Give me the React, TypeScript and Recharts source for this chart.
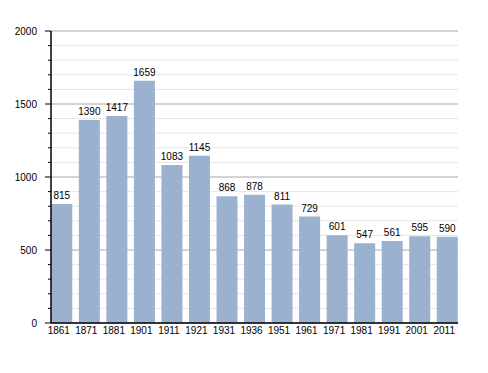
import React from 'react';
import { BarChart, Bar, XAxis, YAxis, CartesianGrid, LabelList } from 'recharts';

const years = ['1861', '1871', '1881', '1901', '1911', '1921', '1931', '1936', '1951', '1961', '1971', '1981', '1991', '2001', '2011'];
const population = [815, 1390, 1417, 1659, 1083, 1145, 868, 878, 811, 729, 601, 547, 561, 595, 590];
const yTicks = [0, 100, 200, 300, 400, 500, 600, 700, 800, 900, 1000, 1100, 1200, 1300, 1400, 1500, 1600, 1700, 1800, 1900, 2000];

const data = years.map((y, i) => ({ year: y, value: population[i] }));

const FONT = '"Liberation Sans", Arial, sans-serif';

const YTick = (props: any) => {
  const { x, y, payload } = props;
  const v = payload.value as number;
  const major = v % 500 === 0;
  return (
    <g>
      <line x1={x - (major ? 6 : 3)} x2={x} y1={y} y2={y} stroke="#000" strokeWidth={1} />
      {major && (
        <text x={x - 14} y={y} dy="0.355em" textAnchor="end" fontSize={10} fontFamily={FONT} fill="#000">
          {v}
        </text>
      )}
    </g>
  );
};

const gridLine = (p: any) => {
  const v = yTicks[p.index];
  const major = v % 500 === 0;
  return (
    <line
      key={p.key}
      x1={p.x1}
      x2={p.x2}
      y1={p.y1}
      y2={p.y2}
      stroke={major ? '#a8a8a8' : '#e6e6e6'}
      strokeWidth={1}
    />
  );
};

export default function App() {
  return (
    <div style={{ position: 'absolute', left: 0, top: 0, width: 488, height: 373, background: '#fff' }}>
      <BarChart
        width={488}
        height={373}
        data={data}
        margin={{ top: 31, right: 30, left: 0, bottom: 0 }}
        barCategoryGap="12%"
      >
        <CartesianGrid vertical={false} horizontal={gridLine} />
        <XAxis
          dataKey="year"
          height={50}
          padding={{ left: -3, right: -3 }}
          tickLine={false}
          tickSize={0}
          tickMargin={4}
          axisLine={{ stroke: '#000', strokeWidth: 1.5 }}
          tick={{ fontSize: 10, fontFamily: FONT, fill: '#000', dx: -3 }}
          interval={0}
        />
        <YAxis
          width={51}
          domain={[0, 2000]}
          ticks={yTicks}
          interval={0}
          tickLine={false}
          tickSize={0}
          tickMargin={0}
          axisLine={{ stroke: '#000', strokeWidth: 1.5 }}
          tick={<YTick />}
        />
        <Bar dataKey="value" fill="#9ab2cf" isAnimationActive={false}>
          <LabelList dataKey="value" position="top" offset={5} fontSize={10} fontFamily={FONT} fill="#000" />
        </Bar>
      </BarChart>
    </div>
  );
}
